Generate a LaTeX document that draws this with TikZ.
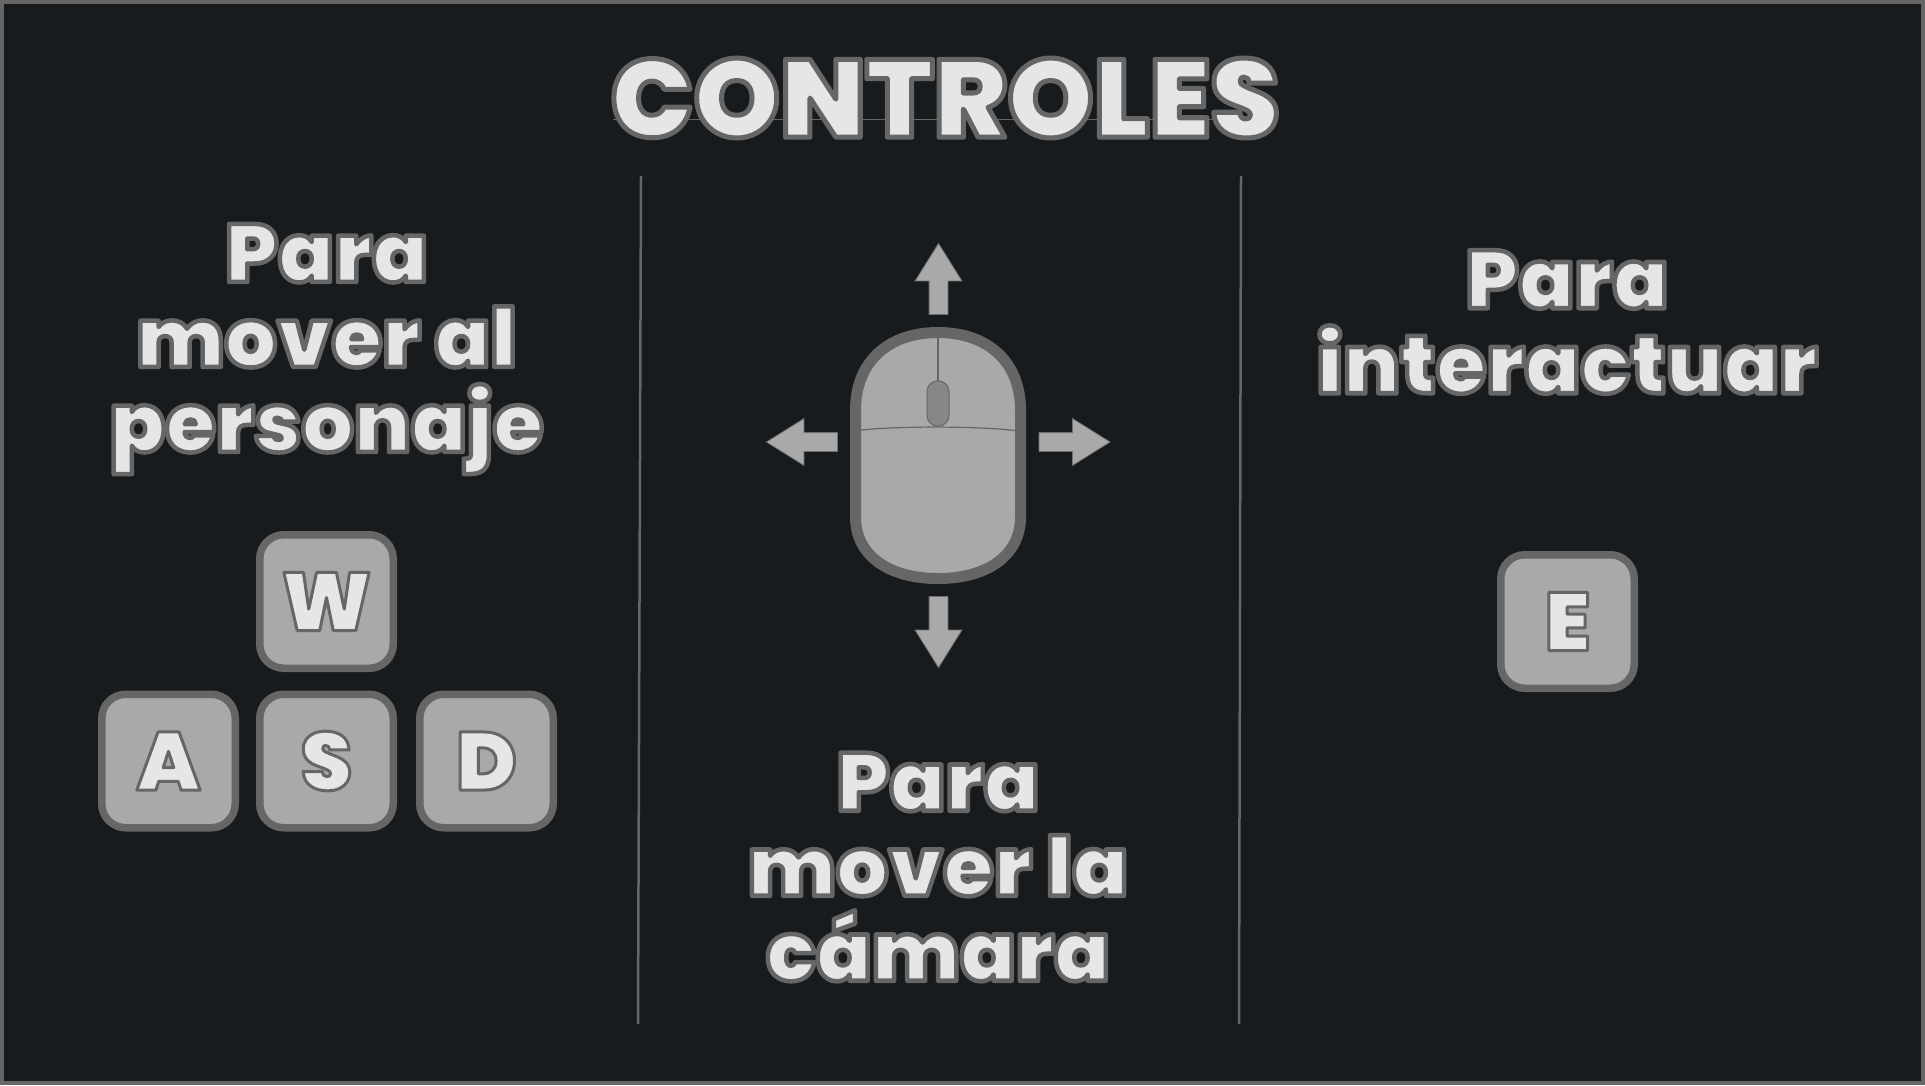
\documentclass[tikz,border=0pt]{standalone}
\usepackage{fontspec}
\usepackage{xcolor}
\usepackage{tikz}
\usetikzlibrary{shapes.arrows}
\setmainfont{Poppins}[BoldFont=Poppins Black]
\definecolor{panelbg}{HTML}{171B1D}
\definecolor{edgegray}{HTML}{666666}
\definecolor{keygray}{HTML}{A9A9A9}
\definecolor{wheelgray}{HTML}{878787}
\newcommand{\outlinetext}[2]{\special{pdf:bcolor [0.902 0.902 0.902] [0.4 0.4 0.4]}\special{pdf:code 2 Tr 1 j #1 w}#2\special{pdf:code 0 Tr}\special{pdf:ecolor}}
\tikzset{
    titletext/.style={inner sep=0pt,font=\fontsize{110}{110}\selectfont\bfseries},
    headtext/.style={inner sep=0pt,align=center,font=\fontsize{82}{85}\selectfont\bfseries},
    keycap/.style={draw=edgegray,fill=keygray,line width=7.5pt,rounded corners=24pt,minimum size=133.5pt,inner sep=0pt,font=\fontsize{82}{82}\selectfont\bfseries},
    dirarrow/.style={shape=single arrow,draw=edgegray!85!keygray,fill=keygray,line width=0.8pt,inner sep=9pt,minimum height=71pt,minimum width=46pt,single arrow head extend=14pt,single arrow tip angle=64},
    divider/.style={draw=edgegray,line width=2.5pt}
}

\begin{document}
\begin{tikzpicture}[x=1pt,y=-1pt]
    \useasboundingbox (0,0) rectangle (1925,1085);
    \draw [fill=panelbg,draw=edgegray,line width=4pt] (2,2) rectangle (1923,1083);

    \coordinate (base L) at (613,119);
    \coordinate (base R) at (1230,119);
    \draw [edgegray,line width=0.8pt] (base L) -- (base R);
    \node (title) at (945,98) [titletext] {\outlinetext{5}{CONTROLES}};

    \coordinate (div1 top) at (641,176);
    \coordinate (div1 bot) at (638,1024);
    \coordinate (div2 top) at (1241,176);
    \coordinate (div2 bot) at (1239,1024);
    \draw [divider] (div1 top) -- (div1 bot);
    \draw [divider] (div2 top) -- (div2 bot);

    \node (move) at (326.5,349) [headtext] {\outlinetext{4.5}{Para\\mover al\\personaje}};
    \node (cam) at (938,867) [headtext] {\outlinetext{4.5}{Para\\mover la\\cámara}};
    \node (act) at (1567,322) [headtext] {\outlinetext{4.5}{Para\\interactuar}};

    \node (W) at (326.5,601.5) [keycap] {\outlinetext{3}{W}};
    \node (A) at (168.5,761) [keycap] {\outlinetext{3}{A}};
    \node (S) at (326.5,761) [keycap] {\outlinetext{3}{S}};
    \node (D) at (486.5,761) [keycap] {\outlinetext{3}{D}};
    \node (E) at (1567.5,621.5) [keycap] {\outlinetext{3}{E}};

    \draw [draw=edgegray,fill=keygray,line width=11pt] (855.5,410) .. controls (855.5,362) and (888,332.5) .. (938,332.5) .. controls (988,332.5) and (1020.5,362) .. (1020.5,410) -- (1020.5,517) .. controls (1020.5,555) and (988,578.5) .. (938,578.5) .. controls (888,578.5) and (855.5,555) .. (855.5,517) -- cycle;
    \draw [edgegray,line width=1.2pt] (938,337) -- (938,381);
    \draw [edgegray,line width=1.2pt] (861,430) .. controls (900,426) and (976,426) .. (1015,430.5);
    \node (wheel) at (938,403.5) [draw=edgegray,fill=wheelgray,line width=1pt,rounded corners=10.5pt,minimum width=22pt,minimum height=45pt,inner sep=0pt] {};

    \node (up) at (938.5,286.5) [dirarrow,rotate=90] {};
    \node (down) at (938.5,624.5) [dirarrow,rotate=-90] {};
    \node (left) at (809.5,442) [dirarrow,rotate=180] {};
    \node (right) at (1067,442) [dirarrow] {};
\end{tikzpicture}
\end{document}
